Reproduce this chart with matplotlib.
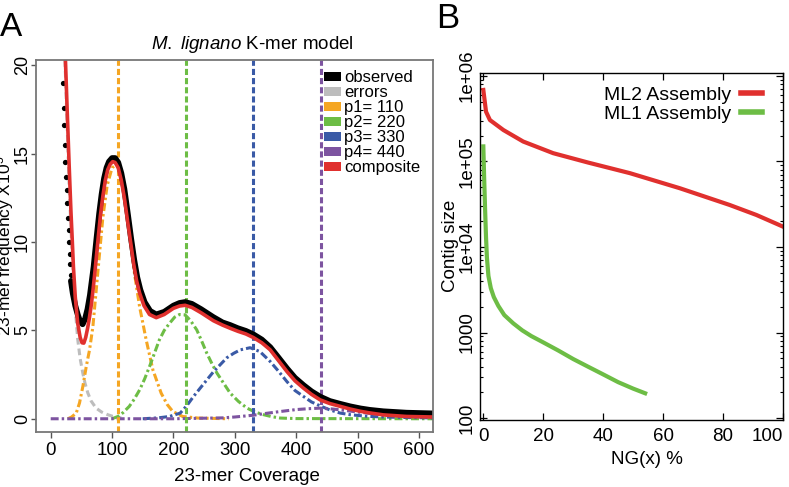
import numpy as np
import matplotlib
matplotlib.use("Agg")
import matplotlib.pyplot as plt
from matplotlib.patches import Patch
from matplotlib.lines import Line2D
from matplotlib.ticker import FixedLocator, LogLocator, NullFormatter

plt.rcParams['font.family'] = ['Liberation Sans', 'DejaVu Sans']
plt.rcParams['mathtext.fontset'] = 'custom'
plt.rcParams['mathtext.rm'] = 'Liberation Sans'
plt.rcParams['mathtext.it'] = 'Liberation Sans:italic'

###############################################################################
# Panel A data (23-mer coverage vs frequency x 10^5)
obs_dot_x = [20, 21, 22, 23, 24, 25, 26, 27, 28, 29, 30, 31, 32, 33, 34]
obs_dot_y = [19.0, 17.6, 16.6, 15.5, 14.55, 13.7, 12.95, 12.2, 11.35, 10.7,
             10.0, 9.35, 8.75, 8.15, 7.6]

obs_x = [33, 36, 40, 44, 48, 52, 56, 60, 64, 67, 70, 75, 79, 83, 87, 91, 95,
         100, 105, 110, 115, 120, 126, 131, 136, 141, 146, 153, 162, 172, 185,
         200, 210, 219, 230, 245, 265, 280, 292.5, 305, 318, 330, 344, 357.7,
         371, 385, 398, 412, 425, 439, 455, 472, 488, 505, 520, 542, 580, 623]
obs_y = [7.8, 7.1, 6.4, 5.9, 5.5, 5.35, 5.65, 6.2, 7.0, 7.8, 8.6, 10.3, 11.6,
         12.7, 13.6, 14.2, 14.55, 14.75, 14.75, 14.5, 13.9, 13.0, 11.5, 10.2,
         9.0, 8.0, 7.3, 6.6, 6.1, 5.9, 6.05, 6.4, 6.55, 6.6, 6.5, 6.2, 5.75,
         5.45, 5.3, 5.12, 4.97, 4.78, 4.48, 4.05, 3.47, 2.85, 2.32, 1.9, 1.55,
         1.25, 1.0, 0.84, 0.7, 0.58, 0.5, 0.42, 0.34, 0.3]

comp_x = [22, 24, 27, 30, 33, 35, 37, 40, 44, 48, 51, 54, 57, 60, 63, 66, 69,
          72, 77, 81, 85, 89, 93, 97, 101, 105, 110, 115, 120, 126, 131, 135,
          140, 145, 152, 161, 172, 185, 200, 210, 219, 230, 245, 265, 280,
          292.5, 305, 318, 330, 344, 357.7, 371, 385, 398, 412, 425, 439, 455,
          472, 488, 505, 520, 542, 580, 623]
comp_y = [21.5, 20.3, 17.3, 14.4, 11.7, 10.2, 8.6, 6.9, 5.4, 4.6, 4.3, 4.28,
          4.6, 5.1, 5.7, 6.4, 7.3, 8.3, 10.1, 11.5, 12.6, 13.5, 14.1, 14.4,
          14.55, 14.5, 14.2, 13.5, 12.5, 11.0, 9.8, 8.8, 7.8, 7.1, 6.4, 5.9,
          5.72, 5.9, 6.25, 6.38, 6.42, 6.3, 6.0, 5.55, 5.3, 5.12, 4.95, 4.8,
          4.6, 4.3, 3.9, 3.3, 2.67, 2.15, 1.73, 1.38, 1.07, 0.86, 0.7, 0.55,
          0.42, 0.33, 0.22, 0.13, 0.1]

err_x = [22, 26, 30, 34, 38, 41, 44, 48, 52.5, 56, 60.6, 66, 74, 83, 93, 100,
         107, 115]
err_y = [21.5, 17.5, 13.2, 10.0, 7.4, 5.8, 4.5, 3.4, 2.55, 2.0, 1.45, 1.0,
         0.6, 0.38, 0.23, 0.15, 0.1, 0.05]

p1_x = [28, 34, 41.6, 47, 52.4, 57.9, 63.3, 68.7, 74.2, 79.6, 85, 92, 100,
        108, 116, 124, 130, 136.6, 144.8, 155.6, 166.5, 180, 190, 199, 215,
        240, 290]
p1_y = [0.0, 0.1, 0.32, 0.9, 1.83, 2.95, 3.9, 5.2, 7.3, 9.36, 11.4, 13.2,
        14.2, 14.4, 14.0, 12.3, 10.4, 8.2, 6.35, 4.46, 2.77, 1.45, 0.8, 0.41,
        0.13, 0.04, 0.0]

p2_x = [100, 109.5, 118, 128, 136, 145, 153, 161, 169, 177, 185, 193.6, 202,
        210, 219, 228, 238, 246, 254.5, 263, 271, 282, 292.5, 306, 320, 333,
        347, 360, 374, 400, 623]
p2_y = [0.0, 0.13, 0.35, 0.7, 1.1, 1.64, 2.25, 2.95, 3.7, 4.46, 5.0, 5.4,
        5.75, 5.9, 5.88, 5.55, 5.03, 4.4, 3.7, 3.1, 2.58, 2.0, 1.45, 0.98,
        0.6, 0.38, 0.23, 0.12, 0.04, 0.01, 0.0]

p3_x = [150, 175, 193.6, 211, 222, 232.7, 244, 254.5, 265, 276, 287, 298,
        309, 325, 341, 357.7, 371, 385, 398, 412, 425, 439, 455, 472, 488,
        515, 542, 580, 623]
p3_y = [0.0, 0.05, 0.13, 0.32, 0.75, 1.26, 1.75, 2.2, 2.65, 3.05, 3.45, 3.7,
        3.9, 4.02, 3.8, 3.24, 2.7, 2.1, 1.6, 1.26, 0.95, 0.73, 0.5, 0.32,
        0.23, 0.14, 0.1, 0.07, 0.05]

p4_x = [0, 100, 200, 280, 300, 330, 350, 374, 400, 420, 439, 460, 480, 500,
        530, 560, 590, 623]
p4_y = [0.0, 0.0, 0.0, 0.05, 0.1, 0.2, 0.3, 0.41, 0.52, 0.57, 0.6, 0.55, 0.47,
        0.38, 0.27, 0.18, 0.12, 0.08]

peak_pos = [110, 220, 330, 440]
legend_labels = ["observed", "errors", "p1= 110", "p2= 220", "p3= 330",
                 "p4= 440", "composite"]

###############################################################################
# Panel B data (NG(x) % vs contig size)
ml2_x = [0.0, 0.9, 2.2, 6.7, 13.3, 23.3, 35, 48.9, 65.6, 82.2, 91.1, 100]
ml2_y = [6.85e5, 3.82e5, 3.05e5, 2.33e5, 1.71e5, 1.25e5, 9.7e4, 7.3e4,
         4.86e4, 3.1e4, 2.37e4, 1.73e4]

ml1_x = [0.0, 0.3, 0.6, 0.9, 1.2, 1.7, 2.5, 3.5, 5, 7, 10, 13, 16, 20, 25,
         30, 35, 40, 45, 50, 54]
ml1_y = [1.5e5, 6e4, 2.7e4, 1.3e4, 7.5e3, 4.6e3, 3.3e3, 2.6e3, 2.05e3, 1.6e3,
         1.28e3, 1.06e3, 910, 767, 617, 490, 398, 324, 263, 221, 195]

###############################################################################
# Colours
c_obs = 'black'
c_err = '#bdbdbd'
c_p1 = '#f5a623'
c_p2 = '#6dbd45'
c_p3 = '#3a5aa6'
c_p4 = '#7d54a0'
c_comp = '#e0302e'
comp_colors = [c_p1, c_p2, c_p3, c_p4]

fig = plt.figure(figsize=(7.89, 4.87), dpi=100)

###############################################################################
# Panel A
ax = fig.add_axes([0.0456, 0.1129, 0.5032, 0.7639])

dashdot = (2.6, 1.0, 0.8, 1.0)
ax.plot(err_x, err_y, color=c_err, lw=2.2, dashes=(2.2, 1.3))
for xs, ys, c in zip([p1_x, p2_x, p3_x, p4_x], [p1_y, p2_y, p3_y, p4_y],
                     comp_colors):
    ax.plot(xs, ys, color=c, lw=2.2, dashes=dashdot)
for pos, c in zip(peak_pos, comp_colors):
    ax.axvline(pos, color=c, lw=2.2, dashes=(2, 1))

ax.plot(obs_dot_x, obs_dot_y, 'o', color=c_obs, ms=3.8, mew=0)
ax.plot(obs_x, obs_y, color=c_obs, lw=4.2, solid_capstyle='round')
ax.plot(comp_x, comp_y, color=c_comp, lw=2.6)

ax.set_xlim(-24, 623)
ax.set_ylim(-0.75, 20.3)
ax.set_xticks(np.arange(0, 601, 100))
ax.set_yticks(np.arange(0, 21, 5))
ax.tick_params(axis='both', labelsize=13.5, length=4, width=1, color='#555555')
ax.tick_params(axis='y', pad=0, length=3.5, labelsize=13)
ax.tick_params(axis='x', pad=3)
for lab in ax.get_yticklabels():
    lab.set_rotation(90)
    lab.set_va('center')
for sp in ax.spines.values():
    sp.set_color('#777777')
    sp.set_linewidth(1.3)

ax.set_xlabel("23-mer Coverage", fontsize=13.5)
ax.xaxis.set_label_coords(0.531, -0.097)
ax.set_ylabel("23-mer frequency X10$^5$", fontsize=12.5)
ax.yaxis.set_label_coords(-0.05, 0.5)
ax.text(0.544, 1.043, r"$\mathit{M.\ lignano}$ K-mer model", fontsize=13.5,
        transform=ax.transAxes, ha='center', va='center')

handles = [Patch(facecolor=c, edgecolor='none')
           for c in [c_obs, c_err] + comp_colors + [c_comp]]
ax.legend(handles, legend_labels, loc='upper left',
          bbox_to_anchor=(0.725, 0.972), frameon=False, fontsize=12,
          handlelength=1.05, handleheight=0.45, handletextpad=0.15,
          labelspacing=0.0, borderpad=0, borderaxespad=0)

###############################################################################
# Panel B
bx = fig.add_axes([0.6084, 0.1376, 0.3840, 0.7131])
bx.plot(ml2_x, ml2_y, color=c_comp, lw=3)
bx.plot(ml1_x, ml1_y, color=c_p2, lw=3)
bx.set_yscale('log')
bx.set_xlim(-1.1, 100)
bx.set_ylim(95, 1.09e6)
bx.set_xticks(np.arange(0, 101, 20))
bx.yaxis.set_major_locator(FixedLocator([100, 1000, 1e4, 1e5, 1e6]))
bx.set_yticklabels(["100", "1000", "1e+04", "1e+05", "1e+06"])
bx.yaxis.set_minor_locator(LogLocator(base=10, subs=np.arange(2, 10)))
bx.yaxis.set_minor_formatter(NullFormatter())
bx.tick_params(axis='both', which='both', top=True, right=True,
               direction='in', labelsize=13.5)
bx.tick_params(axis='both', which='major', length=5, width=0.9)
bx.tick_params(axis='y', which='minor', length=2.5, width=0.8)
bx.tick_params(axis='y', pad=3)
bx.tick_params(axis='x', pad=6)
for lab in bx.get_yticklabels():
    lab.set_rotation(90)
    lab.set_va('center')
bx.get_xticklabels()[-1].set_ha('right')
for sp in bx.spines.values():
    sp.set_linewidth(1.0)

bx.set_xlabel("NG(x) %", fontsize=13.5)
bx.xaxis.set_label_coords(0.551, -0.088)
bx.set_ylabel("Contig size", fontsize=13.5)
bx.yaxis.set_label_coords(-0.07, 0.5)

b_handles = [Line2D([], [], color=c_comp, lw=4),
             Line2D([], [], color=c_p2, lw=4)]
bx.legend(b_handles, ["ML2 Assembly", "ML1 Assembly"], loc='upper right',
          bbox_to_anchor=(0.932, 0.96), frameon=False, fontsize=14,
          markerfirst=False, handlelength=1.1, handletextpad=0.5,
          labelspacing=0.05, borderpad=0, borderaxespad=0)

###############################################################################
# Panel letters
fig.text(0.0, 0.975, "A", fontsize=24, va='top', ha='left')
fig.text(0.553, 0.995, "B", fontsize=25, va='top', ha='left')

fig.savefig("out.png", dpi=100)
